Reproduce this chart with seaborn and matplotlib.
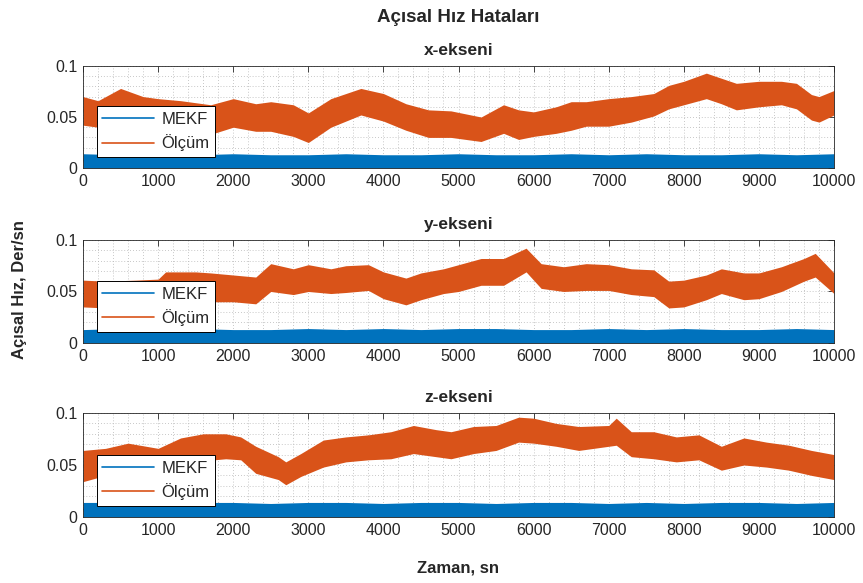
import numpy as np
import pandas as pd
import matplotlib
matplotlib.use("Agg")
import matplotlib.pyplot as plt
import seaborn as sns
from matplotlib.ticker import MultipleLocator

t_x = [0, 200, 500, 800, 1000, 1300, 1700, 2000, 2300, 2500, 2800, 3000, 3300, 3700, 4000,
       4300, 4600, 4900, 5300, 5600, 5800, 6000, 6300, 6500, 6700, 7000, 7300, 7600, 7800,
       8000, 8300, 8500, 8700, 9000, 9300, 9500, 9700, 9800, 10000]
olcum_x_hi = [0.070, 0.066, 0.078, 0.070, 0.068, 0.066, 0.062, 0.068, 0.063, 0.065, 0.062,
              0.054, 0.068, 0.078, 0.073, 0.063, 0.057, 0.056, 0.050, 0.062, 0.057, 0.055,
              0.060, 0.065, 0.065, 0.068, 0.070, 0.073, 0.081, 0.085, 0.093, 0.088, 0.083,
              0.085, 0.085, 0.083, 0.072, 0.070, 0.076]
olcum_x_lo = [0.042, 0.040, 0.052, 0.045, 0.042, 0.038, 0.033, 0.040, 0.036, 0.036, 0.031,
              0.025, 0.040, 0.052, 0.046, 0.037, 0.030, 0.030, 0.026, 0.034, 0.028, 0.031,
              0.034, 0.037, 0.041, 0.041, 0.045, 0.051, 0.058, 0.062, 0.068, 0.063, 0.057,
              0.060, 0.062, 0.058, 0.047, 0.045, 0.052]

t_y = [0, 300, 700, 1000, 1100, 1500, 1700, 2000, 2300, 2500, 2800, 3000, 3300, 3500, 3800,
       4000, 4300, 4500, 4800, 5000, 5300, 5600, 5900, 6100, 6400, 6700, 7000, 7300, 7600,
       7800, 8000, 8300, 8500, 8800, 9000, 9300, 9600, 9750, 10000]
olcum_y_hi = [0.061, 0.060, 0.061, 0.062, 0.069, 0.069, 0.068, 0.066, 0.064, 0.077, 0.072,
              0.076, 0.072, 0.075, 0.076, 0.069, 0.063, 0.068, 0.072, 0.076, 0.082, 0.082,
              0.092, 0.077, 0.074, 0.077, 0.076, 0.072, 0.071, 0.060, 0.061, 0.066, 0.072,
              0.068, 0.068, 0.074, 0.082, 0.087, 0.068]
olcum_y_lo = [0.035, 0.034, 0.035, 0.036, 0.043, 0.042, 0.040, 0.040, 0.038, 0.050, 0.047,
              0.050, 0.048, 0.049, 0.051, 0.043, 0.037, 0.042, 0.048, 0.050, 0.056, 0.056,
              0.069, 0.053, 0.050, 0.051, 0.051, 0.047, 0.045, 0.034, 0.035, 0.042, 0.048,
              0.042, 0.043, 0.050, 0.060, 0.064, 0.048]

t_z = [0, 300, 600, 1000, 1300, 1600, 1900, 2100, 2300, 2600, 2700, 2900, 3200, 3500, 3800,
       4100, 4400, 4700, 4900, 5200, 5500, 5800, 6000, 6300, 6600, 7000, 7100, 7300, 7600,
       7900, 8200, 8500, 8800, 9100, 9400, 9700, 10000]
olcum_z_hi = [0.064, 0.066, 0.071, 0.066, 0.076, 0.080, 0.080, 0.077, 0.068, 0.058, 0.053,
              0.061, 0.074, 0.077, 0.079, 0.082, 0.088, 0.084, 0.082, 0.087, 0.088, 0.096,
              0.095, 0.090, 0.087, 0.088, 0.095, 0.082, 0.082, 0.077, 0.079, 0.068, 0.076,
              0.072, 0.069, 0.064, 0.060]
olcum_z_lo = [0.034, 0.040, 0.045, 0.041, 0.050, 0.054, 0.056, 0.055, 0.042, 0.036, 0.031,
              0.039, 0.048, 0.053, 0.055, 0.056, 0.061, 0.058, 0.056, 0.061, 0.064, 0.072,
              0.071, 0.068, 0.064, 0.068, 0.069, 0.058, 0.056, 0.053, 0.055, 0.045, 0.050,
              0.048, 0.045, 0.040, 0.036]

# MEKF error band: from zero up to the noise top
t_mekf = [0, 500, 1000, 1500, 2000, 2500, 3000, 3500, 4000, 4500, 5000, 5500, 6000, 6500,
          7000, 7500, 8000, 8500, 9000, 9500, 10000]
mekf_x_hi = [0.014, 0.013, 0.014, 0.013, 0.014, 0.013, 0.013, 0.014, 0.013, 0.013, 0.014,
             0.013, 0.013, 0.014, 0.013, 0.014, 0.013, 0.013, 0.014, 0.013, 0.014]
mekf_y_hi = [0.013, 0.014, 0.013, 0.014, 0.013, 0.013, 0.014, 0.013, 0.014, 0.013, 0.014,
             0.014, 0.013, 0.013, 0.014, 0.013, 0.014, 0.013, 0.013, 0.014, 0.013]
mekf_z_hi = [0.014, 0.014, 0.013, 0.014, 0.014, 0.013, 0.014, 0.014, 0.013, 0.014, 0.014,
             0.013, 0.014, 0.014, 0.013, 0.014, 0.013, 0.014, 0.014, 0.013, 0.014]

eksenler = ["x-ekseni", "y-ekseni", "z-ekseni"]
seriler = ["MEKF", "Ölçüm"]
renkler = {"MEKF": "#0072BD", "Ölçüm": "#D95319"}

x_ticks = list(range(0, 10001, 1000))
y_ticks = [0, 0.05, 0.1]
y_ticklabels = ["0", "0.05", "0.1"]


def band_frame(t, lo, hi, name):
    return pd.DataFrame({"t": list(t) * 2, "v": list(lo) + list(hi), "seri": name})


sns.set_theme(style="white")
plt.rcParams["font.family"] = ["Liberation Sans", "DejaVu Sans"]
plt.rcParams["axes.unicode_minus"] = False

fig = plt.figure(figsize=(8.63, 5.83), dpi=100)
positions = [
    [0.0962, 0.7118, 0.8702, 0.1750],
    [0.0962, 0.4117, 0.8702, 0.1767],
    [0.0962, 0.1132, 0.8702, 0.1784],
]

data = [
    (t_x, olcum_x_lo, olcum_x_hi, mekf_x_hi),
    (t_y, olcum_y_lo, olcum_y_hi, mekf_y_hi),
    (t_z, olcum_z_lo, olcum_z_hi, mekf_z_hi),
]

for pos, title, (t, lo, hi, mk) in zip(positions, eksenler, data):
    ax = fig.add_axes(pos)
    df = pd.concat([
        band_frame(t_mekf, [0.0] * len(mk), mk, "MEKF"),
        band_frame(t, lo, hi, "Ölçüm"),
    ], ignore_index=True)
    sns.lineplot(data=df, x="t", y="v", hue="seri", hue_order=seriler, palette=renkler,
                 estimator="mean", errorbar=("pi", 100),
                 err_kws={"alpha": 1, "linewidth": 0}, linewidth=0.8, ax=ax)

    ax.set_xlim(0, 10000)
    ax.set_ylim(0, 0.1)
    ax.set_xticks(x_ticks)
    ax.set_xticklabels([str(v) for v in x_ticks])
    ax.set_yticks(y_ticks)
    ax.set_yticklabels(y_ticklabels)
    ax.xaxis.set_minor_locator(MultipleLocator(200))
    ax.yaxis.set_minor_locator(MultipleLocator(0.01))
    ax.grid(which="both", linestyle=(0, (1, 2.5)), color="#b5b5b5", linewidth=0.6)
    ax.set_axisbelow(True)
    ax.tick_params(which="major", direction="in", top=True, right=True, length=4,
                   width=0.6, color="#262626", labelsize=11.5, labelcolor="#262626", pad=4)
    ax.tick_params(which="minor", length=0)
    for s in ax.spines.values():
        s.set_color("#262626")
        s.set_linewidth(0.6)
    ax.set_xlabel("")
    ax.set_ylabel("")
    ax.set_title(title, fontsize=12.5, fontweight="bold", pad=8)

    handles, labels = ax.get_legend_handles_labels()
    leg = ax.legend(handles, labels, loc="lower left", bbox_to_anchor=(0.018, 0.105),
                    borderaxespad=0, fontsize=12, frameon=True, fancybox=False,
                    framealpha=1, edgecolor="black", handlelength=3.1,
                    handletextpad=0.45, borderpad=0.35, labelspacing=0.45)
    leg.get_frame().set_linewidth(0.7)
    for line in leg.get_lines():
        line.set_linewidth(1.2)

fig.text(0.531, 0.970, "Açısal Hız Hataları", ha="center", va="center",
         fontsize=13.5, fontweight="bold", color="#262626")
fig.text(0.023, 0.503, "Açısal Hız, Der/sn", ha="center", va="center", rotation=90,
         fontsize=12, fontweight="bold", color="#262626")
fig.text(0.531, 0.026, "Zaman, sn", ha="center", va="center",
         fontsize=12, fontweight="bold", color="#262626")

fig.savefig("out.png", dpi=100)
